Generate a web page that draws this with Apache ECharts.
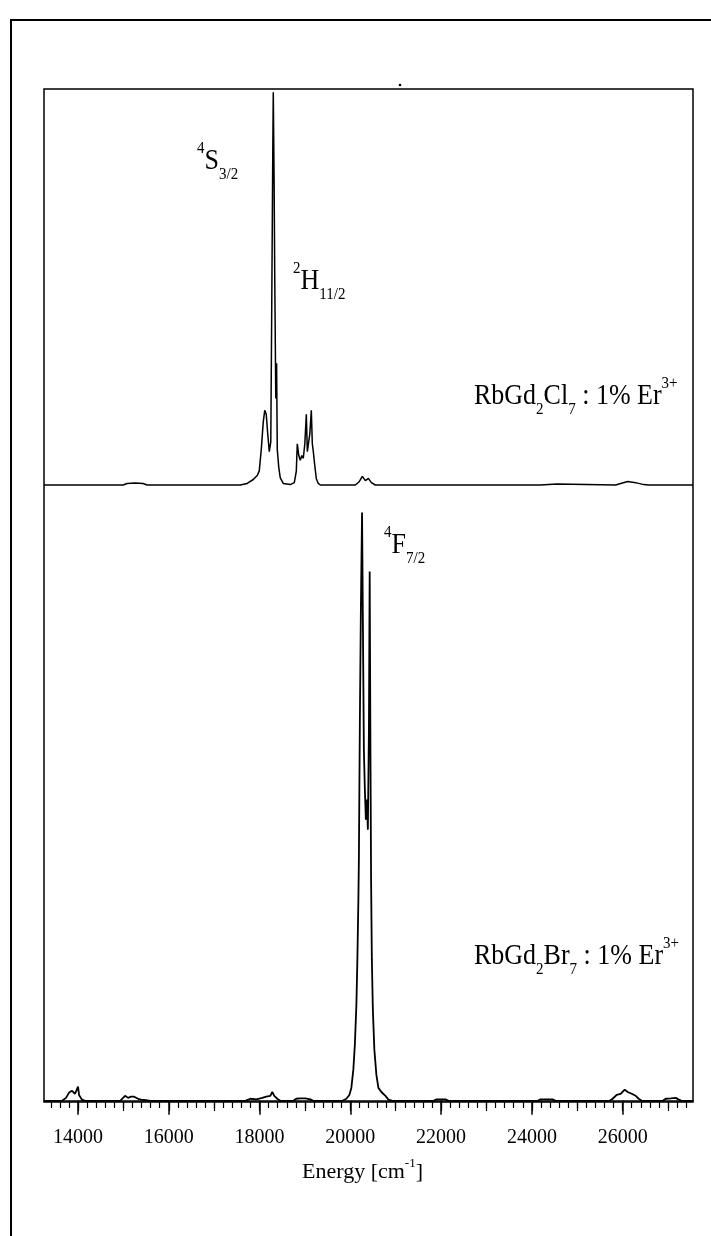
<!DOCTYPE html>
<html>
<head>
<meta charset="utf-8">
<script src="https://cdn.jsdelivr.net/npm/echarts@6/dist/echarts.min.js"></script>
<style>
html,body{margin:0;padding:0;background:#fff;}
#chart{width:711px;height:1236px;}
</style>
</head>
<body>
<div id="chart"></div>
<script>
// ---- data (energy in cm^-1, intensity in arbitrary units) ----
const xTickLabels = [14000, 16000, 18000, 20000, 22000, 24000, 26000];

// RbGd2Cl7 : 1% Er3+ (upper trace)
const clEnergy = [13250, 14993, 15081, 15257, 15434, 15522, 17574, 17728, 17861, 17949, 17993, 18037, 18081, 18114, 18147, 18180, 18214, 18247, 18269, 18291, 18302, 18320, 18335, 18357, 18375, 18390, 18423, 18456, 18522, 18677, 18765, 18809, 18831, 18864, 18897, 18930, 18963, 18997, 19030, 19052, 19085, 19107, 19140, 19162, 19184, 19206, 19228, 19250, 19294, 19339, 20111, 20199, 20265, 20331, 20397, 20463, 20552, 24192, 24236, 24545, 24589, 25846, 25957, 26111, 26287, 26464, 26574, 27550];
const clIntensity = [0, 0, 0.4, 0.5, 0.4, 0, 0, 0.4, 1.4, 2.4, 3.6, 9, 16, 19, 18, 13, 8.5, 11, 47, 85, 100, 77.6, 52, 22, 31, 9, 4.5, 1.8, 0.4, 0.1, 0.6, 3.5, 10.5, 7.5, 6.3, 7.5, 6.8, 10.5, 18, 8.5, 9, 13, 19, 10.5, 8.5, 6, 3.8, 1.6, 0.4, 0, 0, 0.9, 2.2, 1.1, 1.7, 0.6, 0, 0, 0.25, 0.25, 0, 0, 0.4, 0.9, 0.6, 0.1, 0, 0];

// RbGd2Br7 : 1% Er3+ (lower trace)
const brEnergy = [13250, 13647, 13735, 13802, 13868, 13934, 13978, 14000, 14022, 14088, 14154, 14927, 14993, 15037, 15103, 15169, 15235, 15324, 15390, 15500, 15588, 17684, 17794, 17927, 18059, 18147, 18236, 18280, 18324, 18390, 18456, 18743, 18809, 18897, 19008, 19118, 19184, 19559, 19603, 19647, 19824, 19912, 19978, 20022, 20066, 20099, 20133, 20155, 20177, 20188, 20210, 20232, 20258, 20276, 20298, 20320, 20342, 20364, 20386, 20409, 20426, 20441, 20457, 20474, 20496, 20529, 20574, 20618, 20684, 20728, 20773, 20839, 20927, 21831, 21898, 22096, 22162, 24126, 24192, 24456, 24523, 25714, 25780, 25868, 25957, 26045, 26111, 26199, 26287, 26353, 26419, 26883, 26949, 27060, 27170, 27236, 27302, 27550];
const brIntensity = [0, 0, 0.5, 1.4, 1.7, 1.2, 1.2, 2.4, 1.0, 0.2, 0, 0, 0.5, 0.85, 0.5, 0.7, 0.7, 0.35, 0.2, 0.1, 0, 0, 0.35, 0.25, 0.5, 0.7, 0.85, 1.5, 0.85, 0.35, 0, 0, 0.35, 0.4, 0.4, 0.25, 0, 0, 0.2, 0, 0, 0.35, 1.0, 2.2, 5.3, 9.5, 16.3, 24, 34.2, 41, 64.8, 83.5, 100, 81.8, 59.7, 52.9, 47.8, 51.2, 46.1, 63, 90, 63, 37.6, 24, 15.5, 8.7, 4.4, 2.2, 1.5, 1.7, 0.85, 0.2, 0, 0, 0.25, 0.25, 0, 0, 0.25, 0.25, 0, 0, 0.35, 1.0, 1.2, 1.9, 1.5, 1.2, 0.85, 0.35, 0, 0, 0.35, 0.4, 0.5, 0.2, 0, 0];

const xMin = 13250, xMax = 27550;

// ---- build ----
function pairs(xs, ys) { return xs.map((x, i) => [x, ys[i]]); }
const minorTicks = [];
for (let v = 13400; v <= 27400; v += 200) minorTicks.push(v);
const midTicks = [];
for (let v = 13000; v <= 27000; v += 1000) if (v >= xMin) midTicks.push(v);

const SERIF = "'Liberation Serif', 'DejaVu Serif', serif";
const richBase = {
  b: { fontFamily: SERIF, fontSize: 26, color: '#000', lineHeight: 38 },
  sup: { fontFamily: SERIF, fontSize: 15, color: '#000', verticalAlign: 'top', lineHeight: 15 },
  sub: { fontFamily: SERIF, fontSize: 15, color: '#000', verticalAlign: 'bottom', lineHeight: 15 }
};
function label(x, y, text) {
  return { type: 'text', x: x, y: y, scaleY: 1.12,
    style: { text: text, rich: richBase, fill: '#000', align: 'left', verticalAlign: 'top' } };
}

const chart = echarts.init(document.getElementById('chart'), null, { renderer: 'canvas' });
chart.setOption({
  animation: false,
  backgroundColor: '#fff',
  grid: [
    { left: 44, right: 18, top: 89, bottom: 134, show: true, borderColor: '#000', borderWidth: 1.5, backgroundColor: 'transparent' },
    { left: 44, right: 18, top: 89, bottom: 751, show: false }
  ],
  xAxis: [
    { type: 'value', gridIndex: 0, min: xMin, max: xMax, position: 'bottom',
      axisLine: { show: true, lineStyle: { color: '#000', width: 1.5 } },
      axisTick: { show: true, inside: false, length: 14, customValues: xTickLabels, lineStyle: { color: '#000', width: 1.5 } },
      axisLabel: { show: true, customValues: xTickLabels, margin: 26, color: '#000', fontFamily: SERIF, fontSize: 20,
        formatter: function (v) { return String(v); } },
      splitLine: { show: false },
      name: '{n|Energy [cm}{s|-1}{n|]}', nameLocation: 'middle', nameGap: 55,
      nameTextStyle: { padding: [0, 12, 0, 0], rich: {
        n: { fontFamily: SERIF, fontSize: 22, color: '#000', lineHeight: 30 },
        s: { fontFamily: SERIF, fontSize: 13, color: '#000', verticalAlign: 'top', lineHeight: 13 }
      } }
    },
    { type: 'value', gridIndex: 0, min: xMin, max: xMax, position: 'bottom',
      axisLine: { show: false }, axisLabel: { show: false }, splitLine: { show: false },
      axisTick: { show: true, length: 6, customValues: minorTicks, lineStyle: { color: '#000', width: 1.2 } } },
    { type: 'value', gridIndex: 0, min: xMin, max: xMax, position: 'bottom',
      axisLine: { show: false }, axisLabel: { show: false }, splitLine: { show: false },
      axisTick: { show: true, length: 9, customValues: midTicks, lineStyle: { color: '#000', width: 1.2 } } },
    { type: 'value', gridIndex: 1, min: xMin, max: xMax, show: false }
  ],
  yAxis: [
    { type: 'value', gridIndex: 0, min: -0.2, max: 172, show: false },
    { type: 'value', gridIndex: 1, min: 0, max: 100.8, show: false }
  ],
  series: [
    { name: 'RbGd2Br7 : 1% Er3+', type: 'line', xAxisIndex: 0, yAxisIndex: 0, data: pairs(brEnergy, brIntensity),
      showSymbol: false, symbol: 'none', lineStyle: { color: '#000', width: 1.8 }, clip: true },
    { name: 'RbGd2Cl7 : 1% Er3+', type: 'line', xAxisIndex: 3, yAxisIndex: 1, data: pairs(clEnergy, clIntensity),
      showSymbol: false, symbol: 'none', lineStyle: { color: '#000', width: 1.5 }, clip: false }
  ],
  graphic: [
    { type: 'line', shape: { x1: 10, y1: 20, x2: 711, y2: 20 }, style: { stroke: '#000', lineWidth: 2 } },
    { type: 'line', shape: { x1: 11, y1: 20, x2: 11, y2: 1236 }, style: { stroke: '#000', lineWidth: 2 } },
    { type: 'circle', shape: { cx: 400, cy: 85, r: 1.3 }, style: { fill: '#000' } },
    label(197, 140, '{sup|4}{b|S}{sub|3/2}'),
    label(293, 260, '{sup|2}{b|H}{sub|11/2}'),
    label(474, 375, '{b|RbGd}{sub|2}{b|Cl}{sub|7}{b| : 1% Er}{sup|3+}'),
    label(384, 524, '{sup|4}{b|F}{sub|7/2}'),
    label(474, 935, '{b|RbGd}{sub|2}{b|Br}{sub|7}{b| : 1% Er}{sup|3+}')
  ]
});
</script>
</body>
</html>
